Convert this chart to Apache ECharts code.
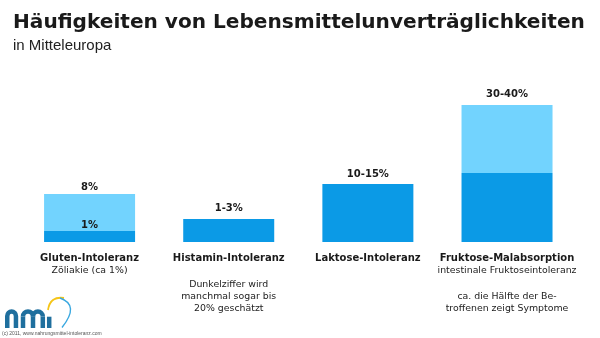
<!DOCTYPE html>
<html>
<head>
<meta charset="utf-8">
<script src="https://cdn.jsdelivr.net/npm/echarts@6/dist/echarts.min.js"></script>
<style>
html,body{margin:0;padding:0;background:#fff;}
#chart{width:600px;height:338px;}
</style>
</head>
<body>
<div id="chart"></div>
<script>
// ---- data (bar heights, in chart units) ----
const categories = ['Gluten-Intoleranz', 'Histamin-Intoleranz', 'Laktose-Intoleranz', 'Fruktose-Malabsorption'];
const categoryNotes = [
  ['Zöliakie (ca 1%)'],
  ['', 'Dunkelziffer wird', 'manchmal sogar bis', '20% geschätzt'],
  [],
  ['intestinale Fruktoseintoleranz', '', 'ca. die Hälfte der Be-', 'troffenen zeigt Symptome']
];
const baseHeights = [11, 23, 58, 69];
const topHeights = [37, null, null, 68];
const baseLabels = ['1%', '1-3%', '10-15%', ''];
const topLabels = ['8%', '', '', '30-40%'];
const titleText = 'Häufigkeiten von Lebensmittelunverträglichkeiten';
const subtitleText = 'in Mitteleuropa';
const copyrightText = '(c) 2011, www.nahrungsmittel-intoleranz.com';

const DARK = '#0b9ae6';
const LIGHT = '#72d3fe';
const LOGO = '#1f6f9e';
const FONT = 'DejaVu Sans';

const baseLabelDist = [0, 5, 4, 4];
const topLabelDist = [0.7, 4, 4, 5];

const chart = echarts.init(document.getElementById('chart'), null, {renderer: 'canvas'});

function stroke(w, c) { return {fill: null, stroke: c || LOGO, lineWidth: w}; }
function vline(x, y1, y2) {
  return {type: 'line', shape: {x1: x, y1: y1, x2: x, y2: y2}, style: stroke(4.5)};
}
function hump(cx, cy, r) {
  return {type: 'arc', shape: {cx: cx, cy: cy, r: r, startAngle: Math.PI, endAngle: Math.PI * 2, clockwise: true}, style: stroke(4.5)};
}

const option = {
  animation: false,
  backgroundColor: '#fff',
  title: {
    text: titleText,
    subtext: subtitleText,
    left: 13,
    top: 11,
    padding: 0,
    itemGap: 3,
    textStyle: {fontFamily: FONT, fontWeight: 'bold', fontSize: 20.1, color: '#1a1a1a', lineHeight: 24},
    subtextStyle: {fontFamily: 'Liberation Sans', fontSize: 15, color: '#222', lineHeight: 16}
  },
  grid: {left: 20, right: 23.4, top: 92, bottom: 96, containLabel: false},
  xAxis: {
    type: 'category',
    data: categories,
    axisLine: {show: false},
    axisTick: {show: false},
    axisLabel: {
      interval: 0,
      margin: 9.8,
      lineHeight: 13.5,
      color: '#1a1a1a',
      formatter: function (value, idx) {
        const lines = ['{b|' + value + '}'];
        categoryNotes[idx].forEach(function (l) {
          lines.push(l === '' ? '{g| }' : '{n|' + l + '}');
        });
        return lines.join('\n');
      },
      rich: {
        b: {fontFamily: FONT, fontWeight: 'bold', fontSize: 10, lineHeight: 13, color: '#1a1a1a'},
        n: {fontFamily: FONT, fontSize: 9.4, lineHeight: 12, color: '#222'},
        g: {fontFamily: FONT, fontSize: 9, lineHeight: 13.5}
      }
    }
  },
  yAxis: {type: 'value', min: 0, max: 150, show: false, splitLine: {show: false}},
  series: [
    {
      type: 'bar',
      stack: 's',
      barWidth: 91,
      itemStyle: {color: DARK},
      data: baseHeights.map(function (v, i) {
        return {value: v, label: {show: baseLabels[i] !== '', distance: baseLabelDist[i]}};
      }),
      label: {
        show: true,
        position: 'top',
        fontFamily: FONT, fontWeight: 'bold', fontSize: 10, lineHeight: 12, color: '#1a1a1a',
        formatter: function (p) { return baseLabels[p.dataIndex]; }
      }
    },
    {
      type: 'bar',
      stack: 's',
      barWidth: 91,
      itemStyle: {color: LIGHT},
      data: topHeights.map(function (v, i) {
        return {value: v, label: {show: topLabels[i] !== '', distance: topLabelDist[i]}};
      }),
      label: {
        show: true,
        position: 'top',
        fontFamily: FONT, fontWeight: 'bold', fontSize: 10, lineHeight: 12, color: '#1a1a1a',
        formatter: function (p) { return topLabels[p.dataIndex]; }
      }
    }
  ],
  graphic: [
    vline(7.25, 328, 315.9), hump(11.6, 315.9, 4.35), vline(15.95, 315.9, 328),
    vline(23, 328, 316.5), hump(28, 316.5, 5), vline(33, 316.5, 328),
    hump(37.9, 316.5, 4.9), vline(42.8, 316.5, 328),
    vline(49.2, 316.7, 328),
    {type: 'bezierCurve', shape: {x1: 48, y1: 310, cpx1: 50, cpy1: 296, x2: 64, y2: 298}, style: stroke(1.8, '#f5c518')},
    {type: 'bezierCurve', shape: {x1: 60, y1: 298, cpx1: 80, cpy1: 305, x2: 62, y2: 327.5}, style: stroke(1.4, '#3aa8e0')},
    {type: 'text', left: 2, top: 331, style: {text: copyrightText, fontFamily: 'Liberation Sans', fontSize: 5, fill: '#555'}}
  ]
};
chart.setOption(option);
</script>
</body>
</html>
